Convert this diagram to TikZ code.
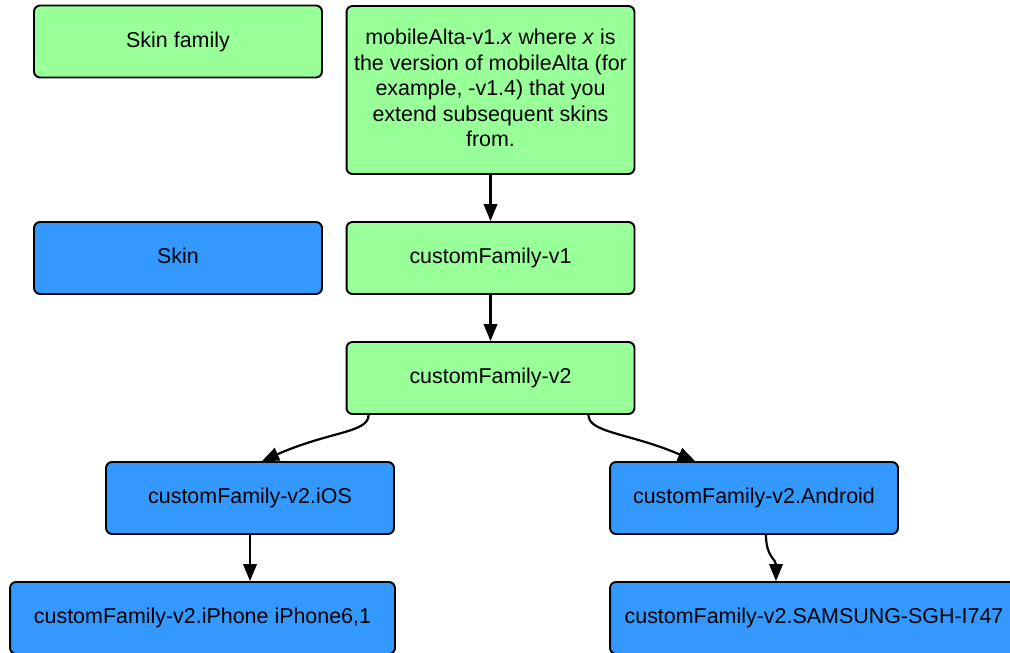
\documentclass[tikz,border=0pt]{standalone}
\usepackage{fontspec}
\setmainfont{Liberation Sans}
\usepackage{tikz}
\usetikzlibrary{arrows.meta, positioning}

\definecolor{famgreen}{RGB}{153,255,153}
\definecolor{skinblue}{RGB}{51,153,255}
\tikzset{
  box/.style={draw=black, line width=1.1pt, rounded corners=0.12cm,
    minimum width=5.76cm, minimum height=1.44cm, inner sep=0pt,
    text depth=0.21em, align=center, font=\fontsize{12.2}{14.5}\selectfont},
  family/.style={box, fill=famgreen},
  skin/.style={box, fill=skinblue},
}

\begin{document}
\begin{tikzpicture}[x=0.02cm, y=-0.02cm, >={Triangle[length=0.34cm, width=0.27cm]}, line width=1.25pt]
    % 1. Khung ảnh
    \clip (0,0) rectangle (1010,652);

    % 2. Chú thích
    \node[family] (legfam) at (178,41.5) {Skin family};
    \node[skin] (legskin) at (178,258) {Skin};

    % 3. Các họ skin
    \node[family, minimum height=3.36cm] (alta) at (490.5,90)
        {mobileAlta-v1.\textit{x} where \textit{x} is\\the version of mobileAlta (for\\example, -v1.4) that you\\extend subsequent skins\\from.};
    \node[family] (famone) at (490.5,258) {customFamily-v1};
    \node[family] (famtwo) at (490.5,378) {customFamily-v2};

    % 4. Các skin
    \node[skin] (ios) at (250,498) {customFamily-v2.iOS};
    \node[skin] (android) at (754,498) {customFamily-v2.Android};
    \node[skin, minimum width=7.7cm] (iphone) at (202.5,618) {customFamily-v2.iPhone iPhone6,1};
    \node[skin, minimum width=8.16cm] (samsung) at (814,618) {customFamily-v2.SAMSUNG-SGH-I747};

    % 5. Mũi tên
    \draw[->] (alta) -- (famone);
    \draw[->] (famone) -- (famtwo);
    \draw[->] ([xshift=0.46cm]famtwo.south west) .. controls +(0,18) and +(68,-30) .. ([xshift=0.24cm]ios.north);
    \draw[->] ([xshift=-0.94cm]famtwo.south east) .. controls +(0,18) and +(-65,-28) .. ([xshift=-1.18cm]android.north);
    \draw[->] (ios.south) -- (ios.south |- iphone.north);
    \draw[->] ([xshift=0.24cm]android.south) .. controls +(0,22) and +(0,-22) .. ([xshift=-0.76cm]samsung.north);
\end{tikzpicture}
\end{document}
